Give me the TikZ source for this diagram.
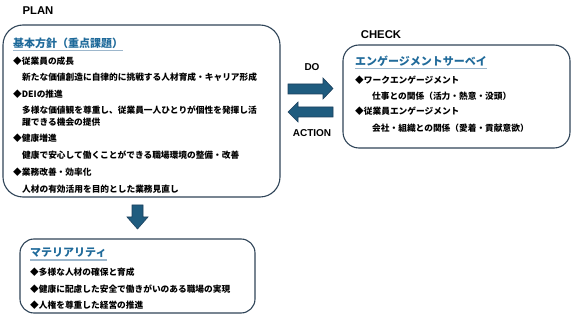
\documentclass[tikz,border=0pt]{standalone}
\usepackage{fontspec}
\setmainfont{Noto Sans CJK JP}
\newfontfamily\labelfont{Liberation Sans}
\usetikzlibrary{calc}
\definecolor{boxline}{HTML}{2F4458}
\definecolor{arrowfill}{HTML}{1F5C7F}
\definecolor{arrowline}{HTML}{1B3F5C}
\definecolor{titlecol}{HTML}{1F6A9A}
\definecolor{uline}{HTML}{9DB7CC}
\tikzset{
  frame/.style={draw=boxline, line width=1.1pt, inner sep=0pt},
  txt/.style={anchor=west, inner sep=0pt, font=\bfseries\fontsize{8.7}{10}\selectfont},
  ttl/.style={anchor=west, inner sep=0pt, text=titlecol, font=\bfseries\fontsize{11}{13}\selectfont},
  ul/.style={draw=uline, line width=1.2pt},
  lbl/.style={inner sep=0pt, font=\labelfont\bfseries\fontsize{11.3}{13}\selectfont},
  sidelbl/.style={inner sep=0pt, font=\labelfont\bfseries\fontsize{10}{12}\selectfont},
  blockarrow/.style={fill=arrowfill, draw=arrowline, line width=0.6pt, line join=miter}
}
\begin{document}
\begin{tikzpicture}[x=1pt,y=-1pt]
\useasboundingbox (0,0) rectangle (571,318);
% boxes
\node[frame, rounded corners=20pt, minimum width=277pt, minimum height=172pt] (plan) at (141.5,111) {};
\node[frame, rounded corners=16pt, minimum width=227pt, minimum height=103pt] (check) at (456.5,96.5) {};
\node[frame, rounded corners=14pt, minimum width=235pt, minimum height=74pt] (mat) at (137.5,276) {};
% labels
\node[lbl] (planlbl) at (38,11) {PLAN};
\node[lbl] (checklbl) at (381,35) {CHECK};
\node[sidelbl] (dolbl) at (312,67) {DO};
\node[sidelbl] (actlbl) at (312,133) {ACTION};
% PLAN content
\node[ttl] (t1) at (13,43) {基本方針（重点課題）};
\draw[ul] ($(t1.south west)+(0,2)$) -- ($(t1.south east)+(0,2)$);
\node[txt] (p1) at (13,61) {◆従業員の成長};
\node[txt] (p2) at (22,77.5) {新たな価値創造に自律的に挑戦する人材育成・キャリア形成};
\node[txt] (p3) at (13,94.5) {◆DEIの推進};
\node[txt] (p4) at (22,110.5) {多様な価値観を尊重し、従業員一人ひとりが個性を発揮し活};
\node[txt] (p5) at (22,122.5) {躍できる機会の提供};
\node[txt] (p6) at (13,138.5) {◆健康増進};
\node[txt] (p7) at (22,155) {健康で安心して働くことができる職場環境の整備・改善};
\node[txt] (p8) at (13,172.5) {◆業務改善・効率化};
\node[txt] (p9) at (22,189) {人材の有効活用を目的とした業務見直し};
% CHECK content
\node[ttl] (t2) at (355,61) {エンゲージメントサーベイ};
\draw[ul] ($(t2.south west)+(0,2)$) -- ($(t2.south east)+(0,2)$);
\node[txt] (c1) at (355,80) {◆ワークエンゲージメント};
\node[txt] (c2) at (372,96) {仕事との関係（活力・熱意・没頭）};
\node[txt] (c3) at (355,111) {◆従業員エンゲージメント};
\node[txt] (c4) at (372,128) {会社・組織との関係（愛着・貢献意欲）};
% Materiality content
\node[ttl] (t3) at (30,253) {マテリアリティ};
\draw[ul] ($(t3.south west)+(0,2)$) -- ($(t3.south east)+(0,2)$);
\node[txt] (m1) at (30,272) {◆多様な人材の確保と育成};
\node[txt] (m2) at (30,289) {◆健康に配慮した安全で働きがいのある職場の実現};
\node[txt] (m3) at (30,305) {◆人権を尊重した経営の推進};
% block arrows
\draw[blockarrow] (288,84) -- (323,84) -- (323,78) -- (333,88.5) -- (323,99) -- (323,94) -- (288,94) -- cycle;
\draw[blockarrow] (333,107) -- (298,107) -- (298,102) -- (288,112) -- (298,122) -- (298,117) -- (333,117) -- cycle;
\draw[blockarrow] (132,205) -- (143,205) -- (143,217) -- (148,217) -- (137.5,229) -- (127,217) -- (132,217) -- cycle;
\end{tikzpicture}
\end{document}
